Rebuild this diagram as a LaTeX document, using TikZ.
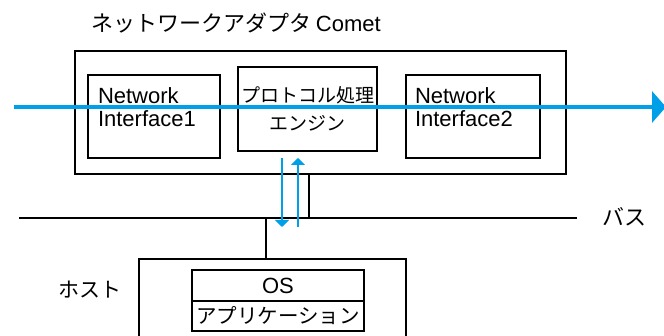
\documentclass[tikz,border=0pt]{standalone}
\usepackage{fontspec}
\setmainfont{Liberation Sans}
\newfontfamily\jp{Noto Sans CJK JP}
\usetikzlibrary{arrows.meta}
\definecolor{flow}{RGB}{0,160,232}
\begin{document}
\begin{tikzpicture}[x=1pt,y=-1pt,
  frame/.style={draw=black, line width=2.7pt, rectangle, inner sep=0pt, outer sep=0pt},
  lbl/.style={inner sep=0pt, outer sep=0pt},
  wire/.style={draw=black, line width=2.7pt},
  flowline/.style={draw=flow, line width=4.5pt, -{Triangle[width=31pt,length=14pt]}},
  dma/.style={draw=flow, line width=2.6pt, -{Triangle[width=14pt,length=7pt]}}]
\useasboundingbox (0,0) rectangle (664,336);
\clip (0,0) rectangle (664,336);
% boxes
\node[frame, minimum width=491pt, minimum height=123pt] (adapter) at (320.5,112.5) {};
\node[frame, minimum width=132pt, minimum height=83pt] (ni1) at (154,116.5) {};
\node[frame, minimum width=139pt, minimum height=84pt] (proto) at (307.5,109) {};
\node[frame, minimum width=134pt, minimum height=83pt] (ni2) at (473,116.5) {};
\node[frame, minimum width=267pt, minimum height=101pt] (host) at (272.5,309.5) {};
\node[frame, minimum width=172pt, minimum height=31pt] (os) at (278,285.5) {};
\node[frame, minimum width=172pt, minimum height=30pt] (app) at (278,316) {};
% texts
\node[lbl, anchor=west, font=\jp\fontsize{22}{24}\selectfont] (title) at (91,23) {ネットワークアダプタ {\rmfamily\fontsize{22}{24}\selectfont Comet}};
\node[lbl, anchor=north west, align=left, font=\fontsize{22}{23}\selectfont] (t1) at (98,88) {Network\\Interface1};
\node[lbl, anchor=north west, align=left, font=\fontsize{22}{23}\selectfont] (t2) at (415,88) {Network\\Interface2};
\node[lbl, align=center, font=\jp\fontsize{19}{28}\selectfont] (t3) at (307.5,109) {プロトコル処理\\エンジン};
\node[lbl, font=\fontsize{22}{24}\selectfont] (tos) at (os.center) {OS};
\node[lbl, font=\jp\fontsize{20.5}{24}\selectfont] (tapp) at (app.center) {アプリケーション};
\node[lbl, font=\jp\fontsize{21}{24}\selectfont] (thost) at (90,290) {ホスト};
\node[lbl, anchor=west, font=\jp\fontsize{22}{24}\selectfont] (tbus) at (602,217) {バス};
% bus
\coordinate (busL) at (19,218);
\coordinate (busR) at (577,218);
\draw[wire] (busL) -- (busR);
\coordinate (aTap) at (309,218);
\coordinate (hTap) at (266,218);
\draw[wire] (adapter.south -| aTap) -- (aTap);
\draw[wire] (hTap) -- (host.north -| hTap);
% data flow
\coordinate (dTop) at (282,158);
\coordinate (dBot) at (282,227);
\coordinate (uBot) at (298,227);
\coordinate (uTop) at (298,158);
\draw[dma] (dTop) -- (dBot);
\draw[dma] (uBot) -- (uTop);
\coordinate (fL) at (14,107);
\coordinate (fR) at (666,107);
\draw[flowline] (fL) -- (fR);
\end{tikzpicture}
\end{document}
